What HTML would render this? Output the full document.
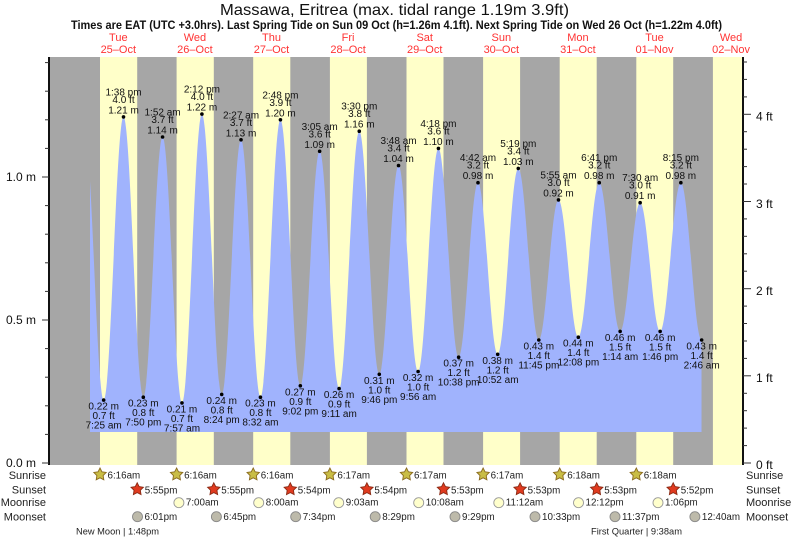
<!DOCTYPE html>
<html><head><meta charset="utf-8"><style>
html,body{margin:0;padding:0;background:#fff;}
svg{display:block;font-family:"Liberation Sans",Arial,sans-serif;}
.hl text,.lo text{font-size:10px;fill:#111;text-anchor:middle;dominant-baseline:central;}
.ax{font-size:12px;fill:#111;dominant-baseline:central;}
.row{font-size:11px;fill:#222;dominant-baseline:central;}
.tm{font-size:9.8px;fill:#222;dominant-baseline:central;}
.day{font-size:11px;fill:#f33;text-anchor:middle;}
</style></head><body>
<svg width="793" height="539" viewBox="0 0 793 539" xmlns="http://www.w3.org/2000/svg">
<defs>
<clipPath id="cp"><rect x="90" y="57" width="611.64" height="380"/></clipPath>
</defs>
<!-- titles -->
<text x="220" y="15" font-size="16" fill="#111" textLength="349" lengthAdjust="spacingAndGlyphs">Massawa, Eritrea (max. tidal range 1.19m 3.9ft)</text>
<text x="71" y="29" font-size="11.5" font-weight="bold" fill="#111" textLength="651" lengthAdjust="spacingAndGlyphs">Times are EAT (UTC +3.0hrs). Last Spring Tide on Sun 09 Oct (h=1.26m 4.1ft). Next Spring Tide on Wed 26 Oct (h=1.22m 4.0ft)</text>
<!-- day labels -->
<g class="day">
<text x="118.3" y="41">Tue</text><text x="118.3" y="53">25–Oct</text>
<text x="194.9" y="41">Wed</text><text x="194.9" y="53">26–Oct</text>
<text x="271.5" y="41">Thu</text><text x="271.5" y="53">27–Oct</text>
<text x="348.1" y="41">Fri</text><text x="348.1" y="53">28–Oct</text>
<text x="424.7" y="41">Sat</text><text x="424.7" y="53">29–Oct</text>
<text x="501.3" y="41">Sun</text><text x="501.3" y="53">30–Oct</text>
<text x="577.9" y="41">Mon</text><text x="577.9" y="53">31–Oct</text>
<text x="654.5" y="41">Tue</text><text x="654.5" y="53">01–Nov</text>
<text x="731.1" y="41">Wed</text><text x="731.1" y="53">02–Nov</text>
</g>
<!-- plot background -->
<rect x="49" y="57" width="693" height="408" fill="#a6a6a6"/>
<g fill="#ffffc9">
<rect x="100" y="57" width="37.2" height="408"/>
<rect x="176.6" y="57" width="37.2" height="408"/>
<rect x="253.2" y="57" width="37.1" height="408"/>
<rect x="329.9" y="57" width="37" height="408"/>
<rect x="406.5" y="57" width="37" height="408"/>
<rect x="483.1" y="57" width="37" height="408"/>
<rect x="559.7" y="57" width="37" height="408"/>
<rect x="636.3" y="57" width="36.9" height="408"/>
<rect x="712.9" y="57" width="29.1" height="408"/>
</g>
<!-- tide -->
<path clip-path="url(#cp)" fill="#a0b3fd" d="M84.6,432 L84.6,131.2
C91.54,131.2 96.73,400.1 103.67,400.1
C110.89,400.1 116.29,116.9 123.51,116.9
C130.71,116.9 136.10,397.2 143.30,397.2
C150.31,397.2 155.55,137.0 162.56,137.0
C169.63,137.0 174.90,402.9 181.97,402.9
C189.23,402.9 194.66,114.1 201.92,114.1
C209.12,114.1 214.51,394.4 221.71,394.4
C228.74,394.4 233.99,139.8 241.02,139.8
C248.09,139.8 253.37,397.2 260.44,397.2
C267.72,397.2 273.16,119.8 280.44,119.8
C287.68,119.8 293.09,385.8 300.33,385.8
C307.36,385.8 312.61,151.3 319.64,151.3
C326.73,151.3 332.02,388.6 339.11,388.6
C346.45,388.6 351.93,131.2 359.27,131.2
C366.55,131.2 372.00,374.3 379.28,374.3
C386.29,374.3 391.52,165.6 398.53,165.6
C405.66,165.6 410.98,371.5 418.11,371.5
C425.51,371.5 431.03,148.4 438.43,148.4
C445.79,148.4 451.28,357.2 458.64,357.2
C465.69,357.2 470.95,182.7 478.00,182.7
C485.17,182.7 490.52,354.3 497.69,354.3
C505.18,354.3 510.79,168.4 518.28,168.4
C525.75,168.4 531.34,340.0 538.81,340.0
C545.97,340.0 551.33,199.9 558.49,199.9
C565.71,199.9 571.11,337.2 578.33,337.2
C585.94,337.2 591.63,182.7 599.24,182.7
C606.85,182.7 612.53,331.4 620.14,331.4
C627.42,331.4 632.86,202.7 640.14,202.7
C647.42,202.7 652.86,331.4 660.14,331.4
C667.67,331.4 673.31,182.7 680.84,182.7
C688.41,182.7 694.07,340.0 701.64,340.0
L701.64,432 Z"/>
<!-- dots -->
<g fill="#000">
<circle cx="123.51" cy="116.9" r="1.8"/><circle cx="162.56" cy="137.0" r="1.8"/><circle cx="201.92" cy="114.1" r="1.8"/><circle cx="241.02" cy="139.8" r="1.8"/><circle cx="280.44" cy="119.8" r="1.8"/><circle cx="319.64" cy="151.3" r="1.8"/><circle cx="359.27" cy="131.2" r="1.8"/><circle cx="398.53" cy="165.6" r="1.8"/><circle cx="438.43" cy="148.4" r="1.8"/><circle cx="478.00" cy="182.7" r="1.8"/><circle cx="518.28" cy="168.4" r="1.8"/><circle cx="558.49" cy="199.9" r="1.8"/><circle cx="599.24" cy="182.7" r="1.8"/><circle cx="640.14" cy="202.7" r="1.8"/><circle cx="680.84" cy="182.7" r="1.8"/>
<circle cx="103.67" cy="400.1" r="1.8"/><circle cx="143.30" cy="397.2" r="1.8"/><circle cx="181.97" cy="402.9" r="1.8"/><circle cx="221.71" cy="394.4" r="1.8"/><circle cx="260.44" cy="397.2" r="1.8"/><circle cx="300.33" cy="385.8" r="1.8"/><circle cx="339.11" cy="388.6" r="1.8"/><circle cx="379.28" cy="374.3" r="1.8"/><circle cx="418.11" cy="371.5" r="1.8"/><circle cx="458.64" cy="357.2" r="1.8"/><circle cx="497.69" cy="354.3" r="1.8"/><circle cx="538.81" cy="340.0" r="1.8"/><circle cx="578.33" cy="337.2" r="1.8"/><circle cx="620.14" cy="331.4" r="1.8"/><circle cx="660.14" cy="331.4" r="1.8"/><circle cx="701.64" cy="340.0" r="1.8"/>
</g>
<!-- high labels -->
<g class="hl">
<text x="123.51" y="92.9">1:38 pm</text><text x="123.51" y="100.4">4.0 ft</text><text x="123.51" y="110.9">1.21 m</text>
<text x="162.56" y="113.0">1:52 am</text><text x="162.56" y="120.5">3.7 ft</text><text x="162.56" y="131.0">1.14 m</text>
<text x="201.92" y="90.1">2:12 pm</text><text x="201.92" y="97.6">4.0 ft</text><text x="201.92" y="108.1">1.22 m</text>
<text x="241.02" y="115.8">2:27 am</text><text x="241.02" y="123.3">3.7 ft</text><text x="241.02" y="133.8">1.13 m</text>
<text x="280.44" y="95.8">2:48 pm</text><text x="280.44" y="103.3">3.9 ft</text><text x="280.44" y="113.8">1.20 m</text>
<text x="319.64" y="127.3">3:05 am</text><text x="319.64" y="134.8">3.6 ft</text><text x="319.64" y="145.3">1.09 m</text>
<text x="359.27" y="107.2">3:30 pm</text><text x="359.27" y="114.7">3.8 ft</text><text x="359.27" y="125.2">1.16 m</text>
<text x="398.53" y="141.6">3:48 am</text><text x="398.53" y="149.1">3.4 ft</text><text x="398.53" y="159.6">1.04 m</text>
<text x="438.43" y="124.4">4:18 pm</text><text x="438.43" y="131.9">3.6 ft</text><text x="438.43" y="142.4">1.10 m</text>
<text x="478.00" y="158.7">4:42 am</text><text x="478.00" y="166.2">3.2 ft</text><text x="478.00" y="176.7">0.98 m</text>
<text x="518.28" y="144.4">5:19 pm</text><text x="518.28" y="151.9">3.4 ft</text><text x="518.28" y="162.4">1.03 m</text>
<text x="558.49" y="175.9">5:55 am</text><text x="558.49" y="183.4">3.0 ft</text><text x="558.49" y="193.9">0.92 m</text>
<text x="599.24" y="158.7">6:41 pm</text><text x="599.24" y="166.2">3.2 ft</text><text x="599.24" y="176.7">0.98 m</text>
<text x="640.14" y="178.7">7:30 am</text><text x="640.14" y="186.2">3.0 ft</text><text x="640.14" y="196.7">0.91 m</text>
<text x="680.84" y="158.7">8:15 pm</text><text x="680.84" y="166.2">3.2 ft</text><text x="680.84" y="176.7">0.98 m</text>
</g>
<!-- low labels -->
<g class="lo">
<text x="103.67" y="407.1">0.22 m</text><text x="103.67" y="416.6">0.7 ft</text><text x="103.67" y="426.1">7:25 am</text>
<text x="143.30" y="404.2">0.23 m</text><text x="143.30" y="413.7">0.8 ft</text><text x="143.30" y="423.2">7:50 pm</text>
<text x="181.97" y="409.9">0.21 m</text><text x="181.97" y="419.4">0.7 ft</text><text x="181.97" y="428.9">7:57 am</text>
<text x="221.71" y="401.4">0.24 m</text><text x="221.71" y="410.9">0.8 ft</text><text x="221.71" y="420.4">8:24 pm</text>
<text x="260.44" y="404.2">0.23 m</text><text x="260.44" y="413.7">0.8 ft</text><text x="260.44" y="423.2">8:32 am</text>
<text x="300.33" y="392.8">0.27 m</text><text x="300.33" y="402.3">0.9 ft</text><text x="300.33" y="411.8">9:02 pm</text>
<text x="339.11" y="395.6">0.26 m</text><text x="339.11" y="405.1">0.9 ft</text><text x="339.11" y="414.6">9:11 am</text>
<text x="379.28" y="381.3">0.31 m</text><text x="379.28" y="390.8">1.0 ft</text><text x="379.28" y="400.3">9:46 pm</text>
<text x="418.11" y="378.5">0.32 m</text><text x="418.11" y="388.0">1.0 ft</text><text x="418.11" y="397.5">9:56 am</text>
<text x="458.64" y="364.2">0.37 m</text><text x="458.64" y="373.7">1.2 ft</text><text x="458.64" y="383.2">10:38 pm</text>
<text x="497.69" y="361.3">0.38 m</text><text x="497.69" y="370.8">1.2 ft</text><text x="497.69" y="380.3">10:52 am</text>
<text x="538.81" y="347.0">0.43 m</text><text x="538.81" y="356.5">1.4 ft</text><text x="538.81" y="366.0">11:45 pm</text>
<text x="578.33" y="344.2">0.44 m</text><text x="578.33" y="353.7">1.4 ft</text><text x="578.33" y="363.2">12:08 pm</text>
<text x="620.14" y="338.4">0.46 m</text><text x="620.14" y="347.9">1.5 ft</text><text x="620.14" y="357.4">1:14 am</text>
<text x="660.14" y="338.4">0.46 m</text><text x="660.14" y="347.9">1.5 ft</text><text x="660.14" y="357.4">1:46 pm</text>
<text x="701.64" y="347.0">0.43 m</text><text x="701.64" y="356.5">1.4 ft</text><text x="701.64" y="366.0">2:46 am</text>
</g>
<!-- axes -->
<line x1="49" y1="57" x2="49" y2="465" stroke="#111" stroke-width="2"/>
<line x1="743" y1="57" x2="743" y2="465" stroke="#111" stroke-width="2"/>
<g stroke="#333" stroke-width="1">
<line x1="42" y1="463" x2="49" y2="463"/><line x1="45" y1="434.4" x2="49" y2="434.4"/><line x1="45" y1="405.8" x2="49" y2="405.8"/><line x1="45" y1="377.2" x2="49" y2="377.2"/><line x1="45" y1="348.6" x2="49" y2="348.6"/><line x1="42" y1="320" x2="49" y2="320"/><line x1="45" y1="291.4" x2="49" y2="291.4"/><line x1="45" y1="262.8" x2="49" y2="262.8"/><line x1="45" y1="234.2" x2="49" y2="234.2"/><line x1="45" y1="205.6" x2="49" y2="205.6"/><line x1="42" y1="177" x2="49" y2="177"/><line x1="45" y1="148.4" x2="49" y2="148.4"/><line x1="45" y1="119.8" x2="49" y2="119.8"/><line x1="45" y1="91.2" x2="49" y2="91.2"/><line x1="45" y1="62.6" x2="49" y2="62.6"/>
<line x1="743" y1="463" x2="751" y2="463"/><line x1="743" y1="445.6" x2="747" y2="445.6"/><line x1="743" y1="428.1" x2="747" y2="428.1"/><line x1="743" y1="410.7" x2="747" y2="410.7"/><line x1="743" y1="393.3" x2="747" y2="393.3"/><line x1="743" y1="375.8" x2="751" y2="375.8"/><line x1="743" y1="358.4" x2="747" y2="358.4"/><line x1="743" y1="341.0" x2="747" y2="341.0"/><line x1="743" y1="323.5" x2="747" y2="323.5"/><line x1="743" y1="306.1" x2="747" y2="306.1"/><line x1="743" y1="288.7" x2="751" y2="288.7"/><line x1="743" y1="271.2" x2="747" y2="271.2"/><line x1="743" y1="253.8" x2="747" y2="253.8"/><line x1="743" y1="236.3" x2="747" y2="236.3"/><line x1="743" y1="218.9" x2="747" y2="218.9"/><line x1="743" y1="201.5" x2="751" y2="201.5"/><line x1="743" y1="184.0" x2="747" y2="184.0"/><line x1="743" y1="166.6" x2="747" y2="166.6"/><line x1="743" y1="149.2" x2="747" y2="149.2"/><line x1="743" y1="131.7" x2="747" y2="131.7"/><line x1="743" y1="114.3" x2="751" y2="114.3"/><line x1="743" y1="96.9" x2="747" y2="96.9"/><line x1="743" y1="79.4" x2="747" y2="79.4"/><line x1="743" y1="62.0" x2="747" y2="62.0"/>
</g>
<g class="ax" text-anchor="end">
<text x="36" y="463">0.0 m</text><text x="36" y="320">0.5 m</text><text x="36" y="177">1.0 m</text>
</g>
<g class="ax">
<text x="756" y="465">0 ft</text><text x="756" y="378">1 ft</text><text x="756" y="291">2 ft</text><text x="756" y="204">3 ft</text><text x="756" y="116.5">4 ft</text>
</g>
<!-- row labels -->
<g class="row" text-anchor="end">
<text x="46" y="476">Sunrise</text><text x="46" y="490.5">Sunset</text><text x="46" y="503">Moonrise</text><text x="46" y="517.3">Moonset</text>
</g>
<g class="row">
<text x="746" y="476">Sunrise</text><text x="746" y="490.5">Sunset</text><text x="746" y="503">Moonrise</text><text x="746" y="517.3">Moonset</text>
</g>
<!-- sunrise stars -->
<g fill="#c9bd45" stroke="#8a6a1e" stroke-width="0.9">
<polygon transform="translate(100,474.5)" points="0,-6.5 1.94,-2.67 6.18,-2.01 3.14,1.02 3.82,5.26 0,3.3 -3.82,5.26 -3.14,1.02 -6.18,-2.01 -1.94,-2.67"/>
<polygon transform="translate(176.6,474.5)" points="0,-6.5 1.94,-2.67 6.18,-2.01 3.14,1.02 3.82,5.26 0,3.3 -3.82,5.26 -3.14,1.02 -6.18,-2.01 -1.94,-2.67"/>
<polygon transform="translate(253.2,474.5)" points="0,-6.5 1.94,-2.67 6.18,-2.01 3.14,1.02 3.82,5.26 0,3.3 -3.82,5.26 -3.14,1.02 -6.18,-2.01 -1.94,-2.67"/>
<polygon transform="translate(329.9,474.5)" points="0,-6.5 1.94,-2.67 6.18,-2.01 3.14,1.02 3.82,5.26 0,3.3 -3.82,5.26 -3.14,1.02 -6.18,-2.01 -1.94,-2.67"/>
<polygon transform="translate(406.5,474.5)" points="0,-6.5 1.94,-2.67 6.18,-2.01 3.14,1.02 3.82,5.26 0,3.3 -3.82,5.26 -3.14,1.02 -6.18,-2.01 -1.94,-2.67"/>
<polygon transform="translate(483.1,474.5)" points="0,-6.5 1.94,-2.67 6.18,-2.01 3.14,1.02 3.82,5.26 0,3.3 -3.82,5.26 -3.14,1.02 -6.18,-2.01 -1.94,-2.67"/>
<polygon transform="translate(559.7,474.5)" points="0,-6.5 1.94,-2.67 6.18,-2.01 3.14,1.02 3.82,5.26 0,3.3 -3.82,5.26 -3.14,1.02 -6.18,-2.01 -1.94,-2.67"/>
<polygon transform="translate(636.3,474.5)" points="0,-6.5 1.94,-2.67 6.18,-2.01 3.14,1.02 3.82,5.26 0,3.3 -3.82,5.26 -3.14,1.02 -6.18,-2.01 -1.94,-2.67"/>
</g>
<!-- sunset stars -->
<g fill="#e03a1f" stroke="#8a2a14" stroke-width="0.9">
<polygon transform="translate(137.2,489.3)" points="0,-6.5 1.94,-2.67 6.18,-2.01 3.14,1.02 3.82,5.26 0,3.3 -3.82,5.26 -3.14,1.02 -6.18,-2.01 -1.94,-2.67"/>
<polygon transform="translate(213.8,489.3)" points="0,-6.5 1.94,-2.67 6.18,-2.01 3.14,1.02 3.82,5.26 0,3.3 -3.82,5.26 -3.14,1.02 -6.18,-2.01 -1.94,-2.67"/>
<polygon transform="translate(290.3,489.3)" points="0,-6.5 1.94,-2.67 6.18,-2.01 3.14,1.02 3.82,5.26 0,3.3 -3.82,5.26 -3.14,1.02 -6.18,-2.01 -1.94,-2.67"/>
<polygon transform="translate(366.9,489.3)" points="0,-6.5 1.94,-2.67 6.18,-2.01 3.14,1.02 3.82,5.26 0,3.3 -3.82,5.26 -3.14,1.02 -6.18,-2.01 -1.94,-2.67"/>
<polygon transform="translate(443.5,489.3)" points="0,-6.5 1.94,-2.67 6.18,-2.01 3.14,1.02 3.82,5.26 0,3.3 -3.82,5.26 -3.14,1.02 -6.18,-2.01 -1.94,-2.67"/>
<polygon transform="translate(520.1,489.3)" points="0,-6.5 1.94,-2.67 6.18,-2.01 3.14,1.02 3.82,5.26 0,3.3 -3.82,5.26 -3.14,1.02 -6.18,-2.01 -1.94,-2.67"/>
<polygon transform="translate(596.7,489.3)" points="0,-6.5 1.94,-2.67 6.18,-2.01 3.14,1.02 3.82,5.26 0,3.3 -3.82,5.26 -3.14,1.02 -6.18,-2.01 -1.94,-2.67"/>
<polygon transform="translate(673.2,489.3)" points="0,-6.5 1.94,-2.67 6.18,-2.01 3.14,1.02 3.82,5.26 0,3.3 -3.82,5.26 -3.14,1.02 -6.18,-2.01 -1.94,-2.67"/>
</g>
<!-- moonrise circles -->
<g fill="#ffffcc" stroke="#999" stroke-width="0.9">
<circle cx="178.9" cy="502.7" r="5"/><circle cx="258.7" cy="502.7" r="5"/><circle cx="338.7" cy="502.7" r="5"/><circle cx="418.7" cy="502.7" r="5"/><circle cx="498.8" cy="502.7" r="5"/><circle cx="578.5" cy="502.7" r="5"/><circle cx="658.0" cy="502.7" r="5"/>
</g>
<!-- moonset circles -->
<g fill="#bdbaaa" stroke="#888" stroke-width="0.9">
<circle cx="137.5" cy="516.7" r="5"/><circle cx="216.4" cy="516.7" r="5"/><circle cx="295.7" cy="516.7" r="5"/><circle cx="375.2" cy="516.7" r="5"/><circle cx="455.0" cy="516.7" r="5"/><circle cx="535.0" cy="516.7" r="5"/><circle cx="615.0" cy="516.7" r="5"/><circle cx="694.9" cy="516.7" r="5"/>
</g>
<!-- times -->
<g class="tm">
<text x="107.5" y="476">6:16am</text><text x="184.1" y="476">6:16am</text><text x="260.7" y="476">6:16am</text><text x="337.4" y="476">6:17am</text><text x="414" y="476">6:17am</text><text x="490.6" y="476">6:17am</text><text x="567.2" y="476">6:18am</text><text x="643.8" y="476">6:18am</text>
<text x="144.7" y="490.8">5:55pm</text><text x="221.3" y="490.8">5:55pm</text><text x="297.8" y="490.8">5:54pm</text><text x="374.4" y="490.8">5:54pm</text><text x="451" y="490.8">5:53pm</text><text x="527.6" y="490.8">5:53pm</text><text x="604.2" y="490.8">5:53pm</text><text x="680.7" y="490.8">5:52pm</text>
<text x="185.9" y="503">7:00am</text><text x="265.7" y="503">8:00am</text><text x="345.7" y="503">9:03am</text><text x="425.7" y="503">10:08am</text><text x="505.8" y="503">11:12am</text><text x="585.5" y="503">12:12pm</text><text x="665" y="503">1:06pm</text>
<text x="144.5" y="517.3">6:01pm</text><text x="223.4" y="517.3">6:45pm</text><text x="302.7" y="517.3">7:34pm</text><text x="382.2" y="517.3">8:29pm</text><text x="462" y="517.3">9:29pm</text><text x="542" y="517.3">10:33pm</text><text x="622" y="517.3">11:37pm</text><text x="701.9" y="517.3">12:40am</text>
</g>
<!-- moon phases -->
<text x="76" y="534.5" font-size="9.5" fill="#222" textLength="83" lengthAdjust="spacingAndGlyphs">New Moon | 1:48pm</text>
<text x="591" y="534.5" font-size="9.5" fill="#222" textLength="91" lengthAdjust="spacingAndGlyphs">First Quarter | 9:38am</text>
</svg>
</body></html>
